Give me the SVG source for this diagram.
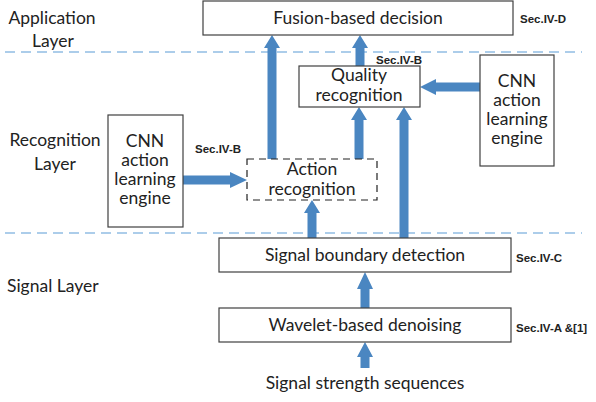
<svg xmlns="http://www.w3.org/2000/svg" width="596" height="402" viewBox="0 0 596 402">
<style>
.box{fill:#fff;stroke:#404040;stroke-width:1.2}
.dbox{fill:#fff;stroke:#222;stroke-width:1.2;stroke-dasharray:7 5}
.t{font-family:Lato,"Liberation Sans",sans-serif;font-size:17.5px;fill:#222;text-anchor:middle}
.l{font-family:Lato,"Liberation Sans",sans-serif;font-size:17.5px;fill:#222}
.s{font-family:"Liberation Sans",sans-serif;font-size:11.5px;font-weight:bold;fill:#222}
.sep{stroke:#5b9bd5;stroke-width:1.2;stroke-dasharray:10 6;fill:none}
.ar{fill:#4a86c1}
</style>
<rect width="596" height="402" fill="#fff"/>
<g id="separators">
<line class="sep" x1="5" y1="52" x2="582" y2="52"/>
<line class="sep" x1="5" y1="233" x2="582" y2="233"/>
</g>
<g id="layer-labels">
<text class="l" x="52" y="24" text-anchor="middle">Application</text>
<text class="l" x="53" y="47" text-anchor="middle">Layer</text>
<text class="l" x="55" y="146" text-anchor="middle">Recognition</text>
<text class="l" x="55" y="170" text-anchor="middle">Layer</text>
<text class="l" x="7" y="292">Signal Layer</text>
</g>
<g id="connectors">
<polygon class="ar" points="267.5,160 267.5,48 264,48 272,35 280,48 276.5,48 276.5,160"/>
<polygon class="ar" points="355.5,66 355.5,48 352,48 360,35 368,48 364.5,48 364.5,66"/>
<polygon class="ar" points="354.5,159 354.5,120 351,120 359,107 367,120 363.5,120 363.5,159"/>
<polygon class="ar" points="399.5,238 399.5,120 396,120 404,107 412,120 408.5,120 408.5,238"/>
<polygon class="ar" points="307.5,238 307.5,213 304,213 312,200 320,213 316.5,213 316.5,238"/>
<polygon class="ar" points="360.5,308 360.5,289 357,289 365,272 373,289 369.5,289 369.5,308"/>
<polygon class="ar" points="360.5,368 360.5,357 357,357 365,342 373,357 369.5,357 369.5,368"/>
<polygon class="ar" points="480,82.5 436,82.5 436,79 420,87 436,95 436,91.5 480,91.5"/>
<polygon class="ar" points="183,175.5 230,175.5 230,172 247,180 230,188 230,184.5 183,184.5"/>
</g>
<g id="fusion">
<rect class="box" x="203" y="1" width="310" height="34"/>
<text class="t" x="358" y="24">Fusion-based decision</text>
<text class="s" x="520" y="23">Sec.IV-D</text>
</g>
<g id="quality">
<rect class="box" x="299" y="66" width="121" height="41"/>
<text class="t" x="359" y="81">Quality</text>
<text class="t" x="359" y="101">recognition</text>
<text class="s" x="376" y="64">Sec.IV-B</text>
</g>
<g id="cnn-right">
<rect class="box" x="480" y="55" width="74" height="111"/>
<text class="t" x="517" y="87">CNN</text>
<text class="t" x="517" y="106">action</text>
<text class="t" x="517" y="125">learning</text>
<text class="t" x="517" y="144">engine</text>
</g>
<g id="cnn-left">
<rect class="box" x="108" y="115" width="75" height="112"/>
<text class="t" x="145" y="147">CNN</text>
<text class="t" x="145" y="166">action</text>
<text class="t" x="145" y="185">learning</text>
<text class="t" x="145" y="204">engine</text>
<text class="s" x="195" y="153">Sec.IV-B</text>
</g>
<g id="action">
<rect class="dbox" x="247" y="159" width="130" height="41"/>
<text class="t" x="312" y="175">Action</text>
<text class="t" x="312" y="195">recognition</text>
</g>
<g id="boundary">
<rect class="box" x="219" y="238" width="292" height="34"/>
<text class="t" x="365" y="261">Signal boundary detection</text>
<text class="s" x="516" y="262">Sec.IV-C</text>
</g>
<g id="wavelet">
<rect class="box" x="219" y="308" width="292" height="34"/>
<text class="t" x="365" y="331">Wavelet-based denoising</text>
<text class="s" x="516" y="332">Sec.IV-A &amp;[1]</text>
</g>
<g id="input">
<text class="t" x="365" y="389">Signal strength sequences</text>
</g>
</svg>
